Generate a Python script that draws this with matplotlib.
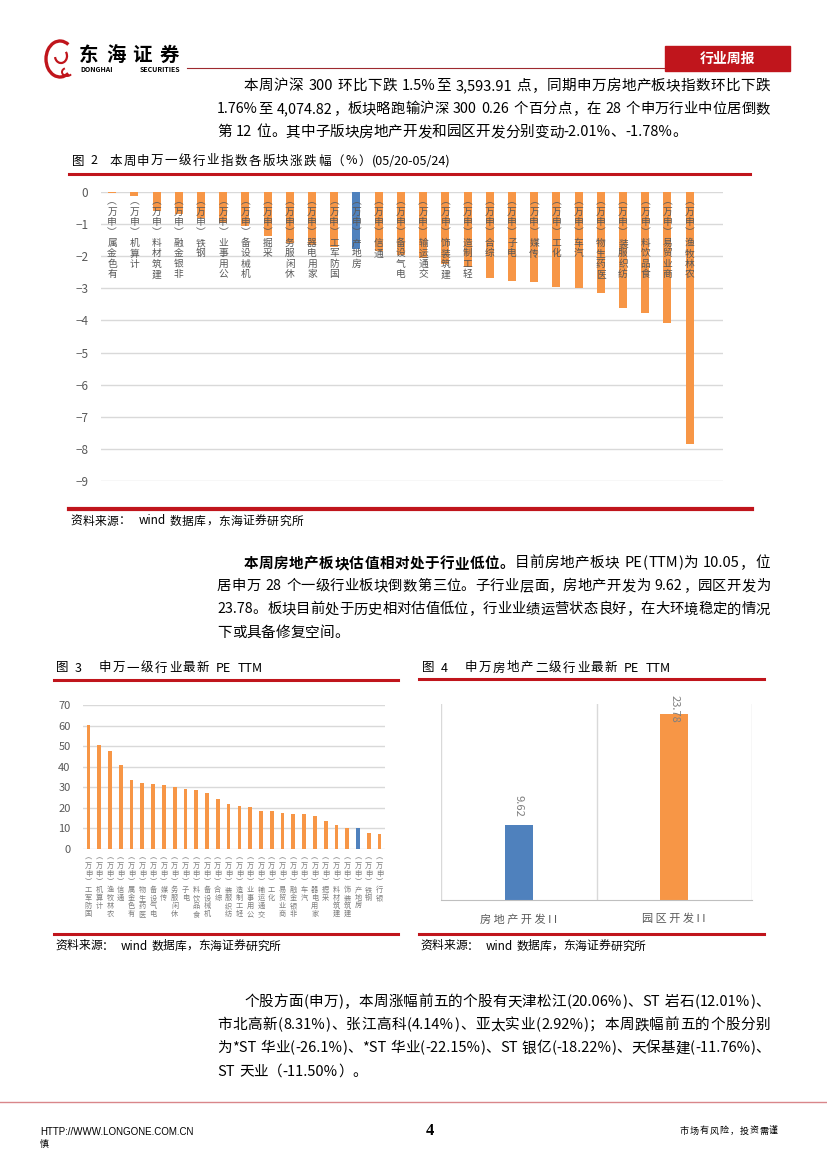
import numpy as np
import matplotlib
matplotlib.use('Agg')
import matplotlib.pyplot as plt
from matplotlib.patches import Rectangle, Arc
from matplotlib.lines import Line2D
from matplotlib.font_manager import FontProperties

plt.rcParams['font.family'] = ['Noto Sans CJK SC', 'DejaVu Sans']

# 图2：本周申万一级行业指数涨跌幅（%）
chg_names = ['有色金属', '计算机', '建筑材料', '非银金融', '钢铁', '公用事业', '机械设备', '采掘',
             '休闲服务', '家用电器', '国防军工', '房地产', '通信', '电气设备', '交通运输', '建筑装饰',
             '轻工制造', '综合', '电子', '传媒', '化工', '汽车', '医药生物', '纺织服装', '食品饮料',
             '商业贸易', '农林牧渔']
chg_values = [-0.04, -0.12, -0.60, -0.70, -0.80, -0.95, -1.05, -1.38, -1.60, -1.65, -1.70, -1.76,
              -1.85, -1.97, -2.07, -2.25, -2.35, -2.67, -2.76, -2.80, -2.96, -3.00, -3.13, -3.62,
              -3.78, -4.07, -7.84]

# 图3：申万一级行业最新 PE TTM
pe_names = ['国防军工', '计算机', '农林牧渔', '通信', '有色金属', '医药生物', '电气设备', '传媒',
            '休闲服务', '电子', '食品饮料', '机械设备', '综合', '纺织服装', '轻工制造', '公用事业',
            '交通运输', '化工', '商业贸易', '非银金融', '汽车', '家用电器', '采掘', '建筑材料',
            '建筑装饰', '房地产', '钢铁', '银行']
pe_values = [60.3, 50.6, 47.6, 40.6, 33.5, 31.9, 31.4, 31.0, 30.1, 29.3, 28.8, 27.4, 24.3, 21.9,
             20.9, 20.3, 18.3, 18.3, 17.3, 16.9, 16.9, 15.9, 13.8, 11.8, 10.2, 10.05, 7.6, 7.3]

# 图4：申万房地产二级行业最新 PE TTM
sub_names = ['房地产开发II', '园区开发II']
sub_values = [9.62, 23.78]

highlight = '房地产'

ORANGE = '#F79646'
BLUE = '#4F81BD'
RED = '#C0151C'
GRAY = '#595959'
GRID = '#D9D9D9'

W, H = 827, 1170
fig = plt.figure(figsize=(W / 100, H / 100), dpi=100)
renderer = fig.canvas.get_renderer()


def fx(x):
    return x / W


def fy(y):
    return 1 - y / H


def text_w(s, size, weight='normal'):
    prop = FontProperties(family=['Noto Sans CJK SC', 'DejaVu Sans'], size=size, weight=weight)
    w, _, _ = renderer.get_text_width_height_descent(s, prop, ismath=False)
    return w


def tokens(s):
    out, buf = [], ''
    for ch in s:
        if ord(ch) < 128 and ch != ' ':
            buf += ch
        else:
            if buf:
                out.append(buf)
                buf = ''
            out.append(ch)
    if buf:
        out.append(buf)
    return out


def measure(toks, size):
    space_w = text_w('a a', size) - text_w('aa', size)
    return [space_w * 1.3 if t == ' ' else text_w(t, size, wt) for t, wt in toks]


def place_line(x0, y, segments, size=10.5, width=None, tracking=0.0, color='black'):
    # segments: [(text, weight), ...]
    toks = []
    for s, wt in segments:
        for t in tokens(s):
            toks.append((t, wt))
    widths = measure(toks, size)
    gap = tracking
    if width is not None and len(toks) > 1:
        gap = (width - sum(widths)) / (len(toks) - 1)
        if gap < 0:
            # 行过长：括号改半角
            toks = [('(' if t == '（' else ')' if t == '）' else t, wt) for t, wt in toks]
            widths = measure(toks, size)
            gap = (width - sum(widths)) / (len(toks) - 1)
        while gap < 0:
            size -= 0.2
            widths = measure(toks, size)
            gap = (width - sum(widths)) / (len(toks) - 1)
    x = x0
    for (t, wt), w in zip(toks, widths):
        if t != ' ':
            fig.text(fx(x), fy(y), t, fontsize=size, fontweight=wt, color=color,
                     ha='left', va='center')
        x += w + gap


def hline(x0, x1, y, color=RED, lw=2.0):
    fig.add_artist(Line2D([fx(x0), fx(x1)], [fy(y), fy(y)], color=color, lw=lw,
                          transform=fig.transFigure))


def add_ax(l, t, r, b):
    return fig.add_axes([fx(l), fy(b), fx(r) - fx(l), fy(t) - fy(b)])


def stack(label):
    s = label.replace('(', '︶').replace(')', '︵')
    return '\n'.join(reversed(s))


def paragraph(lines, y0, left=217, indent=244, right=770, step=23.2):
    for k, segs in enumerate(lines):
        x0 = indent if k == 0 else left
        last = k == len(lines) - 1
        place_line(x0, y0 + k * step, segs, width=None if last else right - x0)


# ---------- 页眉 ----------
lax = add_ax(40, 38, 76, 80)
lax.set_xlim(0, 36)
lax.set_ylim(0, 42)
lax.axis('off')
lax.add_patch(Arc((20, 21), 28, 36, theta1=60, theta2=300, color=RED, lw=2.4))
lax.add_patch(Arc((21, 24), 12, 14, theta1=190, theta2=40, color=RED, lw=1.6))
lax.add_patch(Arc((27, 8), 10, 8, theta1=120, theta2=330, color=RED, lw=1.4))

place_line(79, 55, [('东海证券', 'bold')], size=14, width=100)
place_line(80, 69, [('DONGHAI SECURITIES', 'bold')], size=5, width=100)
hline(187, 664, 67.5, color='#9E2A2F', lw=0.8)
fig.add_artist(Rectangle((fx(665), fy(71)), fx(790) - fx(665), (71 - 46) / H,
                         transform=fig.transFigure, color=RED))
fig.text(fx(727.5), fy(58.5), '行业周报', color='white', fontsize=10, fontweight='bold',
         ha='center', va='center')

# ---------- 正文一 ----------
p1 = [
    [('本周沪深 300 环比下跌 1.5%至 3,593.91 点，同期申万房地产板块指数环比下跌', 'normal')],
    [('1.76%至 4,074.82，板块略跑输沪深 300 0.26 个百分点，在 28 个申万行业中位居倒数', 'normal')],
    [('第 12 位。其中子版块房地产开发和园区开发分别变动-2.01%、-1.78%。', 'normal')],
]
paragraph(p1, 86)

# ---------- 图2 ----------
place_line(72, 161, [('图 2  本周申万一级行业指数各版块涨跌幅（%）(05/20-05/24)', 'normal')],
           size=9, tracking=1.4)
hline(69, 750, 174, lw=2.2)

ax2 = add_ax(101, 192, 723, 481)
x2 = np.arange(len(chg_values))
ax2.bar(x2, chg_values, width=0.36,
        color=[BLUE if n == highlight else ORANGE for n in chg_names], zorder=2)
ax2.set_xlim(-0.5, 27.5)
ax2.set_ylim(-9, 0)
ax2.set_yticks(range(-9, 1))
ax2.yaxis.grid(True, color=GRID, lw=1)
ax2.set_axisbelow(True)
for sp in ax2.spines.values():
    sp.set_visible(False)
ax2.tick_params(axis='y', length=0, pad=9, labelcolor=GRAY, labelsize=8.5)
ax2.set_xticks([])
for i, n in enumerate(chg_names):
    ax2.text(i, -0.14, stack(n + '(申万)'), ha='center', va='top', fontsize=7,
             linespacing=1.05, color=GRAY, zorder=3)

hline(69, 752, 509, lw=3)
place_line(70, 521, [('资料来源：  wind 数据库，东海证券研究所', 'normal')], size=8.5, tracking=0.4)

# ---------- 正文二 ----------
p2 = [
    [('本周房地产板块估值相对处于行业低位。', 'bold'),
     ('目前房地产板块 PE（TTM）为 10.05，位', 'normal')],
    [('居申万 28 个一级行业板块倒数第三位。子行业层面，房地产开发为 9.62，园区开发为', 'normal')],
    [('23.78。板块目前处于历史相对估值低位，行业业绩运营状态良好，在大环境稳定的情况', 'normal')],
    [('下或具备修复空间。', 'normal')],
]
paragraph(p2, 563)

# ---------- 图3 ----------
place_line(56, 668, [('图 3   申万一级行业最新 PE TTM', 'normal')], size=9, tracking=1.5)
hline(54, 398, 680, lw=2.2)

ax3 = add_ax(83, 705, 385, 849)
x3 = np.arange(len(pe_values))
ax3.bar(x3, pe_values, width=0.35,
        color=[BLUE if n == highlight else ORANGE for n in pe_names], zorder=2)
ax3.set_xlim(-0.5, 27.5)
ax3.set_ylim(0, 70)
ax3.set_yticks(range(0, 71, 10))
ax3.yaxis.grid(True, color=GRID, lw=1)
ax3.set_axisbelow(True)
for sp in ax3.spines.values():
    sp.set_visible(False)
ax3.tick_params(axis='y', length=0, pad=9, labelcolor=GRAY, labelsize=8)
ax3.set_xticks([])
for i, n in enumerate(pe_names):
    ax3.text(i, -2.5, stack(n + '(申万)'), ha='center', va='top', fontsize=5.2,
             linespacing=1.0, color='#7F7F7F')

hline(54, 398, 934, lw=2.2)
place_line(55, 946, [('资料来源：  wind 数据库，东海证券研究所', 'normal')], size=8.5)

# ---------- 图4 ----------
place_line(422, 668, [('图 4   申万房地产二级行业最新 PE TTM', 'normal')], size=9, tracking=1.5)
hline(419, 764, 679, lw=2.2)

ax4 = add_ax(441, 704, 752, 900)
x4 = np.arange(len(sub_values))
ax4.bar(x4, sub_values, width=0.18, color=[BLUE, ORANGE], zorder=2)
ax4.set_xlim(-0.5, 1.5)
ax4.set_ylim(0, 25)
for xv in (-0.5, 0.5, 1.5):
    ax4.axvline(xv, color=GRID, lw=1, zorder=1)
for sp in ('top', 'left', 'right'):
    ax4.spines[sp].set_visible(False)
ax4.spines['bottom'].set_color('#BFBFBF')
ax4.set_yticks([])
ax4.set_xticks(x4)
ax4.set_xticklabels([' '.join(n) for n in sub_names], color=GRAY, fontsize=8)
ax4.tick_params(axis='x', length=0, pad=10)
for i, v in enumerate(sub_values):
    ax4.text(i, min(v + 1.0, 22.6), f'{v:.2f}', rotation=-90, ha='center', va='bottom',
             fontsize=8, color='#7F7F7F')

hline(419, 764, 934, lw=2.2)
place_line(420, 946, [('资料来源：  wind 数据库，东海证券研究所', 'normal')], size=8.5)

# ---------- 正文三 ----------
p3 = [
    [('个股方面（申万），本周涨幅前五的个股有天津松江（20.06%）、ST 岩石（12.01%）、', 'normal')],
    [('市北高新（8.31%）、张江高科（4.14%）、亚太实业（2.92%）；本周跌幅前五的个股分别', 'normal')],
    [('为*ST 华业（-26.1%）、*ST 华业（-22.15%）、ST 银亿（-18.22%）、天保基建（-11.76%）、', 'normal')],
    [('ST 天业（-11.50%）。', 'normal')],
]
paragraph(p3, 1002)

# ---------- 页脚 ----------
hline(0, 827, 1102, color='#D9868A', lw=1.0)
fig.text(fx(40), fy(1132), 'HTTP://WWW.LONGONE.COM.CN', fontsize=7, ha='left', va='center',
         family=['Liberation Sans Narrow', 'Liberation Sans', 'DejaVu Sans'])
fig.text(fx(40), fy(1144), '慎', fontsize=6.5, ha='left', va='center')
fig.text(fx(430), fy(1131), '4', fontsize=12, fontweight='bold', ha='center', va='center',
         family=['Liberation Serif', 'DejaVu Serif'])
place_line(680, 1131, [('市场有风险，投资需谨', 'normal')], size=6.5, width=98)

fig.savefig('out.png', dpi=100)
